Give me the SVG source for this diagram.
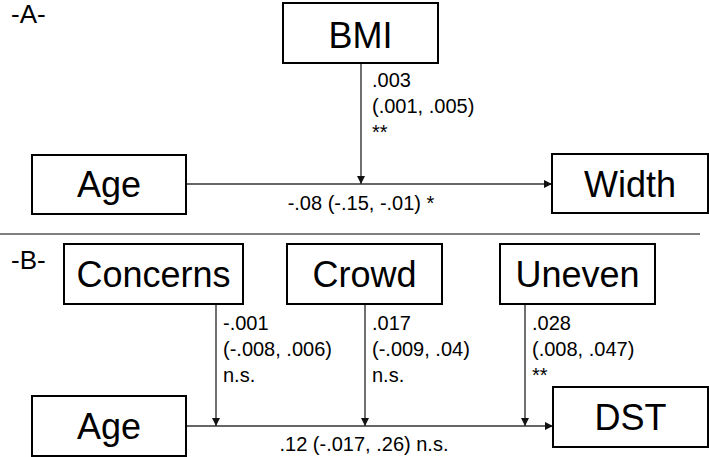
<svg xmlns="http://www.w3.org/2000/svg" width="709" height="457" viewBox="0 0 709 457">
<defs>
<style>
.box{fill:#fff;stroke:#000;stroke-width:2}
.node{font-family:"Liberation Sans",Arial,sans-serif;font-size:36px;fill:#000;text-anchor:middle}
.lbl{font-family:"Liberation Sans",Arial,sans-serif;font-size:20px;fill:#000}
.sec{font-family:"Liberation Sans",Arial,sans-serif;font-size:26px;fill:#000}
.edge{stroke:#333;stroke-width:1.4;fill:none}
</style>
<marker id="arr" markerWidth="8" markerHeight="8" refX="8" refY="4" orient="auto" markerUnits="userSpaceOnUse">
<path d="M0,0 L8,4 L0,8 Z" fill="#111"/>
</marker>
</defs>
<rect width="709" height="457" fill="#fff"/>
<text class="sec" x="11" y="23">-A-</text>
<text class="sec" x="11" y="269">-B-</text>
<line x1="0" y1="234" x2="700" y2="234" stroke="#555" stroke-width="1.5"/>
<g id="connectors">
<line class="edge" x1="186" y1="184" x2="552" y2="184" marker-end="url(#arr)"/>
<line class="edge" x1="361" y1="63" x2="361" y2="184" marker-end="url(#arr)"/>
<line class="edge" x1="186" y1="426" x2="553" y2="426" marker-end="url(#arr)"/>
<line class="edge" x1="216" y1="304" x2="216" y2="426" marker-end="url(#arr)"/>
<line class="edge" x1="365" y1="304" x2="365" y2="426" marker-end="url(#arr)"/>
<line class="edge" x1="525" y1="304" x2="525" y2="426" marker-end="url(#arr)"/>
<text class="lbl" x="372" y="87">.003</text>
<text class="lbl" x="372" y="113">(.001, .005)</text>
<text class="lbl" x="372" y="139">**</text>
<text class="lbl" x="361" y="210" text-anchor="middle">-.08 (-.15, -.01) *</text>
<text class="lbl" x="223" y="330">-.001</text>
<text class="lbl" x="223" y="356">(-.008, .006)</text>
<text class="lbl" x="223" y="382">n.s.</text>
<text class="lbl" x="372" y="330">.017</text>
<text class="lbl" x="372" y="356">(-.009, .04)</text>
<text class="lbl" x="372" y="382">n.s.</text>
<text class="lbl" x="532" y="330">.028</text>
<text class="lbl" x="532" y="356">(.008, .047)</text>
<text class="lbl" x="532" y="382">**</text>
<text class="lbl" x="364" y="451" text-anchor="middle">.12 (-.017, .26) n.s.</text>
</g>
<g id="bmi"><rect class="box" x="283" y="3" width="155" height="60"/><text class="node" x="360.5" y="48">BMI</text></g>
<g id="ageA"><rect class="box" x="32" y="155" width="154" height="59"/><text class="node" x="109" y="197">Age</text></g>
<g id="width"><rect class="box" x="552" y="154" width="156" height="59"/><text class="node" x="630" y="197">Width</text></g>
<g id="concerns"><rect class="box" x="64" y="244" width="179" height="60"/><text class="node" x="153.5" y="287">Concerns</text></g>
<g id="crowd"><rect class="box" x="287" y="244" width="155" height="60"/><text class="node" x="364.5" y="287">Crowd</text></g>
<g id="uneven"><rect class="box" x="500" y="244" width="155" height="60"/><text class="node" x="577.5" y="287">Uneven</text></g>
<g id="ageB"><rect class="box" x="32" y="396" width="154" height="60"/><text class="node" x="109" y="439">Age</text></g>
<g id="dst"><rect class="box" x="553" y="387" width="155" height="60"/><text class="node" x="630.5" y="430">DST</text></g>
</svg>
